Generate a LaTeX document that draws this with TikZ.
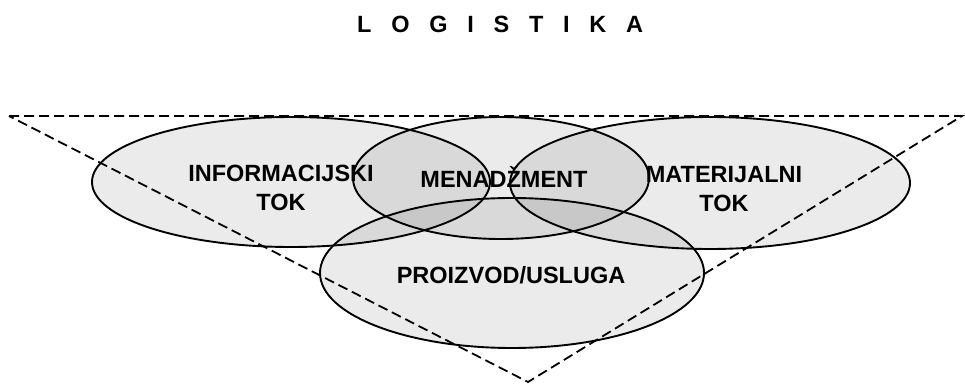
\documentclass[tikz,border=0pt]{standalone}
\usepackage{fontspec}
\setmainfont{Liberation Sans}
\begin{document}
\begin{tikzpicture}[x=1pt,y=-1pt,
  setfill/.style={fill=black,fill opacity=0.08},
  setline/.style={draw=black,line width=1.9pt},
  lbl/.style={font=\fontsize{23.5}{29}\selectfont\bfseries,align=center,inner sep=0pt,text opacity=1},
  tri/.style={draw=black,line width=1.8pt,dash pattern=on 10pt off 5pt}]
\useasboundingbox (0,0) rectangle (965,385);
% fills
\fill[setfill] (291,182) ellipse [x radius=199,y radius=65];
\fill[setfill] (710,183) ellipse [x radius=200,y radius=66];
\fill[setfill] (501,178) ellipse [x radius=148,y radius=61];
\fill[setfill] (512,273) ellipse [x radius=192,y radius=75];
% outlines
\draw[setline] (291,182) ellipse [x radius=199,y radius=65];
\draw[setline] (710,183) ellipse [x radius=200,y radius=66];
\draw[setline] (501,178) ellipse [x radius=148,y radius=61];
\draw[setline] (512,273) ellipse [x radius=192,y radius=75];
% triangle
\coordinate (tl) at (9,116);
\coordinate (tr) at (962,116);
\coordinate (ap) at (528,382);
\draw[tri] (tl) -- (tr) -- (ap) -- cycle;
% labels
\node[lbl] (info) at (281,187.5) {INFORMACIJSKI\\TOK};
\node[lbl] (men) at (504,177) {MENADŽMENT};
\node[lbl] (mat) at (724,189.5) {MATERIJALNI\\TOK};
\node[lbl] (pro) at (511,275) {PROIZVOD/USLUGA};
\node[font=\fontsize{23.5}{27}\selectfont\bfseries\addfontfeature{LetterSpace=84},anchor=west,inner sep=0pt] (title) at (357,24) {LOGISTIKA};
\end{tikzpicture}
\end{document}
